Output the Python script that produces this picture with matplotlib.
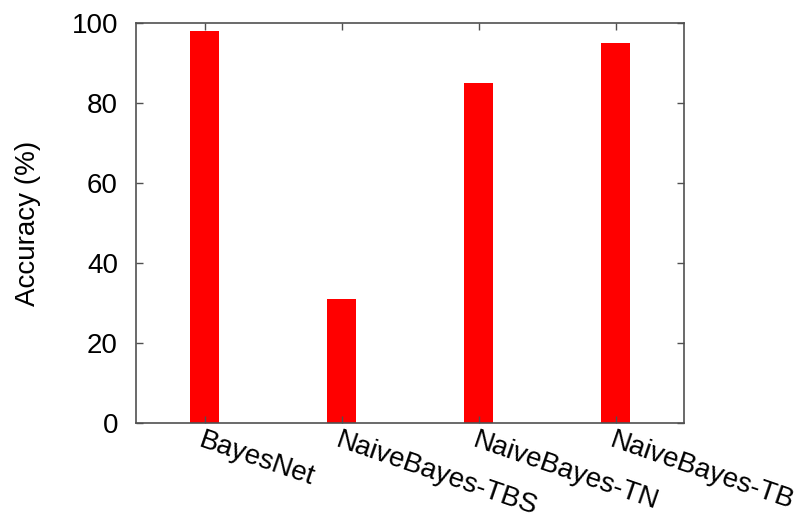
import matplotlib
matplotlib.use("Agg")
import matplotlib.pyplot as plt
import numpy as np

plt.rcParams["font.family"] = ["Liberation Sans", "DejaVu Sans"]

methods = ["BayesNet", "NaiveBayes-TBS", "NaiveBayes-TN", "NaiveBayes-TB"]
accuracy = [98, 31, 85, 95]
yticks = [0, 20, 40, 60, 80, 100]

fig = plt.figure(figsize=(7.96, 5.18), dpi=100)
ax = fig.add_axes([136 / 796, 1 - 423 / 518, 548 / 796, 400 / 518])

x = np.arange(len(methods))
ax.bar(x, accuracy, width=0.21, color="#ff0000", linewidth=0)

ax.set_xlim(-0.5, len(methods) - 0.5)
ax.set_ylim(0, 100)
ax.set_yticks(yticks)
ax.set_xticks(x)
ax.set_xticklabels(methods, rotation=-19, ha="left", va="top",
                   rotation_mode="anchor", fontsize=17.5)
ax.tick_params(axis="both", direction="in", length=5, width=1.0,
               color="#505050", labelsize=20, top=True, right=True)
ax.tick_params(axis="x", pad=3)
ax.tick_params(axis="y", pad=13)
for s in ax.spines.values():
    s.set_color("#505050")
    s.set_linewidth(1.2)

ax.set_ylabel("Accuracy (%)", fontsize=20, labelpad=22)

fig.savefig("out.png", dpi=100)
